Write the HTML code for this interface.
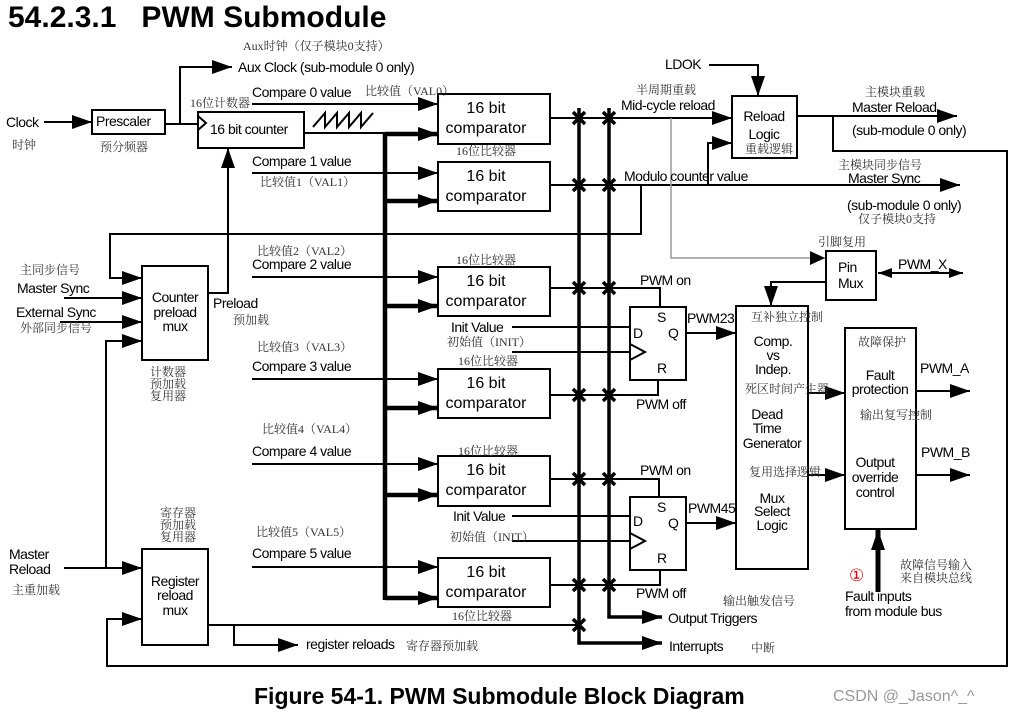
<!DOCTYPE html>
<html><head><meta charset="utf-8"><style>
html,body{margin:0;padding:0;background:#fff;}
svg{display:block;}
.l{font-family:"Liberation Sans",sans-serif;font-size:14px;fill:#000;letter-spacing:-0.5px}
.c{font-family:"Liberation Serif","Noto Serif CJK SC",serif;font-size:12px;fill:#333}
.b{font-family:"Liberation Sans",sans-serif;font-size:16px;fill:#000}
</style></head><body>
<svg width="1015" height="713" viewBox="0 0 1015 713" xmlns="http://www.w3.org/2000/svg">
<defs>
<marker id="a" markerUnits="userSpaceOnUse" markerWidth="22" markerHeight="16" refX="20" refY="7" orient="auto"><path d="M0,0 L20,7 L0,14 z" fill="#000"/></marker>
<marker id="s" markerUnits="userSpaceOnUse" markerWidth="16" markerHeight="12" refX="14" refY="5" orient="auto"><path d="M0,0 L14,5 L0,10 z" fill="#000"/></marker>
<marker id="sr" markerUnits="userSpaceOnUse" markerWidth="16" markerHeight="12" refX="0" refY="5" orient="auto"><path d="M14,0 L0,5 L14,10 z" fill="#000"/></marker>
</defs>
<text x="8" y="27" style="font-family:'Liberation Sans',sans-serif;font-weight:bold;font-size:30px">54.2.3.1&#160;&#160;&#160;PWM Submodule</text>
<text x="254" y="704" style="font-family:'Liberation Sans',sans-serif;font-weight:bold;font-size:23px">Figure 54-1. PWM Submodule Block Diagram</text>
<text x="833" y="701" style="font-family:'Liberation Sans',sans-serif;font-size:16px;fill:#999">CSDN @_Jason^_^</text>

<g fill="none" stroke="#000" stroke-width="2">
<rect x="92" y="110" width="73" height="24"/>
<rect x="198" y="112" width="106" height="36"/>
<polyline points="198,116 206,123 198,130"/>
<rect x="438" y="94" width="112" height="50"/>
<rect x="438" y="162" width="112" height="49"/>
<rect x="438" y="267" width="112" height="49"/>
<rect x="438" y="369" width="112" height="49"/>
<rect x="438" y="456" width="112" height="50"/>
<rect x="438" y="558" width="112" height="49"/>
<rect x="142" y="266" width="66" height="94"/>
<rect x="142" y="549" width="66" height="96"/>
<rect x="732" y="96" width="65" height="62"/>
<rect x="826" y="251" width="50" height="49"/>
<rect x="630" y="307" width="56" height="73"/>
<rect x="630" y="497" width="56" height="73"/>
<polyline points="630,344 645,352 630,360"/>
<polyline points="630,533 645,541 630,549"/>
<rect x="736" y="306" width="72" height="263"/>
<rect x="845" y="328" width="71" height="201"/>
<polyline points="313,127 325,113 325,127 337,113 337,127 349,113 349,127 361,113 361,127 373,113"/>
<line x1="44" y1="122" x2="92" y2="122" marker-end="url(#a)"/>
<polyline points="165,124 198,124"/>
<polyline points="180,124 180,67 232,67" marker-end="url(#a)"/>
<line x1="252" y1="104" x2="438" y2="104" marker-end="url(#a)"/>
<line x1="252" y1="173" x2="438" y2="173" marker-end="url(#a)"/>
<line x1="252" y1="277" x2="438" y2="277" marker-end="url(#a)"/>
<line x1="252" y1="379" x2="438" y2="379" marker-end="url(#a)"/>
<line x1="252" y1="464" x2="438" y2="464" marker-end="url(#a)"/>
<line x1="252" y1="567" x2="438" y2="567" marker-end="url(#a)"/>
<line x1="304" y1="133" x2="385" y2="133"/>
<line x1="550" y1="118" x2="732" y2="118" marker-end="url(#a)"/>
<line x1="550" y1="185" x2="960" y2="185" marker-end="url(#a)"/>
<polyline points="550,288 660,288 660,307"/>
<polyline points="550,395 658,395 658,380"/>
<polyline points="550,479 659,479 659,497"/>
<polyline points="550,585 660,585 660,570"/>
<polyline points="709,65 758,65 758,96" marker-end="url(#a)"/>
<polyline points="708,185 708,143 732,143" marker-end="url(#a)"/>
<line x1="797" y1="116" x2="957" y2="116" marker-end="url(#a)"/>
<polyline points="833,116 833,151 1007,151 1007,666 107,666 107,619 142,619" marker-end="url(#a)"/>
<polyline points="641,185 641,234 110,234 110,278 142,278" marker-end="url(#a)"/>
<line x1="64" y1="298" x2="142" y2="298" marker-end="url(#a)"/>
<line x1="60" y1="322" x2="142" y2="322" marker-end="url(#a)"/>
<line x1="64" y1="568" x2="142" y2="568" marker-end="url(#a)"/>
<polyline points="106,568 106,341 142,341" marker-end="url(#a)"/>
<polyline points="208,293 228,293 228,148" marker-end="url(#a)"/>
<line x1="208" y1="625" x2="579" y2="625"/>
<polyline points="234,625 234,645 298,645" marker-end="url(#a)"/>
<line x1="512" y1="327" x2="630" y2="327"/>
<line x1="512" y1="352" x2="630" y2="352"/>
<line x1="512" y1="516" x2="630" y2="516"/>
<line x1="512" y1="541" x2="630" y2="541"/>
<line x1="686" y1="333" x2="736" y2="333" marker-end="url(#a)"/>
<line x1="686" y1="523" x2="736" y2="523" marker-end="url(#a)"/>
<polyline points="826,282 771,282 771,306" marker-end="url(#a)"/>
<line x1="878" y1="273" x2="963" y2="273" marker-start="url(#sr)" marker-end="url(#s)"/>
<line x1="808" y1="393" x2="845" y2="393" marker-end="url(#a)"/>
<line x1="808" y1="475" x2="845" y2="475" marker-end="url(#a)"/>
<line x1="916" y1="391" x2="970" y2="391" marker-end="url(#a)"/>
<line x1="916" y1="475" x2="970" y2="475" marker-end="url(#a)"/>
</g>
<polyline points="671,118 671,258 825,258" fill="none" stroke="#999" stroke-width="1.5"/>
<path d="M810,251 L825,258 L810,265 z" fill="#000"/>
<g fill="none" stroke="#000" stroke-width="4.5">
<line x1="385" y1="133" x2="385" y2="600"/>
<line x1="385" y1="134" x2="438" y2="134" marker-end="url(#a)"/>
<line x1="385" y1="201" x2="438" y2="201" marker-end="url(#a)"/>
<line x1="385" y1="306" x2="438" y2="306" marker-end="url(#a)"/>
<line x1="385" y1="408" x2="438" y2="408" marker-end="url(#a)"/>
<line x1="385" y1="495" x2="438" y2="495" marker-end="url(#a)"/>
<line x1="385" y1="598" x2="438" y2="598" marker-end="url(#a)"/>
<polyline points="579,108 579,643 662,643" stroke-width="3.5" marker-end="url(#a)"/>
<polyline points="609,108 609,617 662,617" stroke-width="3.5" marker-end="url(#a)"/>
<line x1="878" y1="592" x2="878" y2="530" stroke-width="5" marker-end="url(#a)"/>
</g>
<g stroke="#000" stroke-width="3.5">
<path d="M573,112l12,12M585,112l-12,12M603,112l12,12M615,112l-12,12"/>
<path d="M573,179l12,12M585,179l-12,12M603,179l12,12M615,179l-12,12"/>
<path d="M573,282l12,12M585,282l-12,12M603,282l12,12M615,282l-12,12"/>
<path d="M573,389l12,12M585,389l-12,12M603,389l12,12M615,389l-12,12"/>
<path d="M573,473l12,12M585,473l-12,12M603,473l12,12M615,473l-12,12"/>
<path d="M573,579l12,12M585,579l-12,12M603,579l12,12M615,579l-12,12"/>
<path d="M573,619l12,12M585,619l-12,12"/>
</g>

<text class="l" x="6" y="127">Clock</text>
<text class="c" x="12" y="149">时钟</text>
<text class="l" x="96" y="126">Prescaler</text>
<text class="c" x="100" y="151">预分频器</text>
<text class="c" x="243" y="50">Aux时钟（仅子模块0支持）</text>
<text class="l" x="238" y="72">Aux Clock (sub-module 0 only)</text>
<text class="c" x="190" y="107">16位计数器</text>
<text class="l" x="210" y="134">16 bit counter</text>
<text class="l" x="252" y="97">Compare 0 value</text>
<text class="c" x="365" y="95">比较值（VAL0）</text>
<text class="l" x="252" y="166">Compare 1 value</text>
<text class="c" x="260" y="186">比较值1（VAL1）</text>
<text class="c" x="257" y="255">比较值2（VAL2）</text>
<text class="l" x="252" y="269">Compare 2 value</text>
<text class="c" x="257" y="351">比较值3（VAL3）</text>
<text class="l" x="252" y="371">Compare 3 value</text>
<text class="c" x="262" y="433">比较值4（VAL4）</text>
<text class="l" x="252" y="456">Compare 4 value</text>
<text class="c" x="256" y="536">比较值5（VAL5）</text>
<text class="l" x="252" y="558">Compare 5 value</text>
<g class="b" text-anchor="middle">
<text x="486" y="113">16 bit</text><text x="486" y="133">comparator</text>
<text x="486" y="181">16 bit</text><text x="486" y="201">comparator</text>
<text x="486" y="286">16 bit</text><text x="486" y="306">comparator</text>
<text x="486" y="388">16 bit</text><text x="486" y="408">comparator</text>
<text x="486" y="475">16 bit</text><text x="486" y="495">comparator</text>
<text x="486" y="577">16 bit</text><text x="486" y="597">comparator</text>
</g>
<text class="c" x="456" y="155">16位比较器</text>
<text class="c" x="456" y="264">16位比较器</text>
<text class="c" x="458" y="365">16位比较器</text>
<text class="c" x="458" y="455">16位比较器</text>
<text class="c" x="452" y="620">16位比较器</text>
<text class="c" x="20" y="274">主同步信号</text>
<text class="l" x="17" y="293">Master Sync</text>
<text class="l" x="16" y="317">External Sync</text>
<text class="c" x="20" y="332">外部同步信号</text>
<g class="l" text-anchor="middle">
<text x="175" y="302">Counter</text><text x="175" y="317">preload</text><text x="175" y="331">mux</text>
<text x="175" y="586">Register</text><text x="175" y="600">reload</text><text x="175" y="615">mux</text>
<text x="764" y="121">Reload</text><text x="764" y="139">Logic</text>
<text x="773" y="346">Comp.</text><text x="773" y="360">vs</text><text x="773" y="374">Indep.</text>
<text x="767" y="419">Dead</text><text x="767" y="433">Time</text><text x="772" y="448">Generator</text>
<text x="772" y="503">Mux</text><text x="772" y="516">Select</text><text x="772" y="530">Logic</text>
<text x="880" y="380">Fault</text><text x="880" y="394">protection</text>
<text x="875" y="467">Output</text><text x="875" y="482">override</text><text x="875" y="497">control</text>
</g>
<text class="c" x="745" y="153">重载逻辑</text>
<text class="l" x="838" y="272">Pin</text><text class="l" x="838" y="288">Mux</text>
<text class="l" x="213" y="308">Preload</text>
<text class="c" x="233" y="324">预加载</text>
<text class="c" x="150" y="376">计数器</text><text class="c" x="150" y="388">预加载</text><text class="c" x="150" y="400">复用器</text>
<text class="c" x="160" y="517">寄存器</text><text class="c" x="160" y="529">预加载</text><text class="c" x="160" y="541">复用器</text>
<text class="l" x="9" y="559">Master</text><text class="l" x="9" y="574">Reload</text>
<text class="c" x="12" y="594">主重加载</text>
<text class="l" x="306" y="649">register reloads</text>
<text class="c" x="406" y="650">寄存器预加载</text>
<text class="l" x="665" y="69">LDOK</text>
<text class="c" x="636" y="94">半周期重载</text>
<text class="l" x="621" y="110">Mid-cycle reload</text>
<text class="l" x="624" y="181">Modulo counter value</text>
<text class="c" x="865" y="96">主模块重载</text>
<text class="l" x="852" y="112">Master Reload</text>
<text class="l" x="852" y="135">(sub-module 0 only)</text>
<text class="c" x="838" y="169">主模块同步信号</text>
<text class="l" x="848" y="183">Master Sync</text>
<text class="l" x="847" y="210">(sub-module 0 only)</text>
<text class="c" x="858" y="223">仅子模块0支持</text>
<text class="c" x="818" y="246">引脚复用</text>
<text class="l" x="898" y="269">PWM_X</text>
<text class="l" x="640" y="285">PWM on</text>
<text class="l" x="636" y="409">PWM off</text>
<text class="l" x="640" y="475">PWM on</text>
<text class="l" x="636" y="598">PWM off</text>
<text class="l" x="451" y="332">Init Value</text>
<text class="c" x="447" y="346">初始值（INIT）</text>
<text class="l" x="453" y="521">Init Value</text>
<text class="c" x="450" y="541">初始值（INIT）</text>
<g class="l"><text x="657" y="322">S</text><text x="633" y="338">D</text><text x="668" y="338">Q</text><text x="657" y="373">R</text>
<text x="657" y="512">S</text><text x="633" y="526">D</text><text x="668" y="528">Q</text><text x="657" y="563">R</text></g>
<text class="l" x="687" y="323">PWM23</text>
<text class="l" x="688" y="513">PWM45</text>
<text class="c" x="751" y="321">互补独立控制</text>
<text class="c" x="745" y="393">死区时间产生器</text>
<text class="c" x="749" y="476">复用选择逻辑</text>
<text class="c" x="858" y="346">故障保护</text>
<text class="c" x="860" y="419">输出复写控制</text>
<text class="l" x="920" y="373">PWM_A</text>
<text class="l" x="921" y="457">PWM_B</text>
<text x="849" y="581" style="font-family:'DejaVu Sans',sans-serif;font-size:17px;fill:#e00">①</text>
<text class="c" x="900" y="569">故障信号输入</text>
<text class="c" x="900" y="582">来自模块总线</text>
<text class="l" x="845" y="601">Fault inputs</text>
<text class="l" x="845" y="616">from module bus</text>
<text class="c" x="723" y="605">输出触发信号</text>
<text class="l" x="668" y="623">Output Triggers</text>
<text class="l" x="669" y="651">Interrupts</text>
<text class="c" x="751" y="652">中断</text>
</svg>
</body></html>
